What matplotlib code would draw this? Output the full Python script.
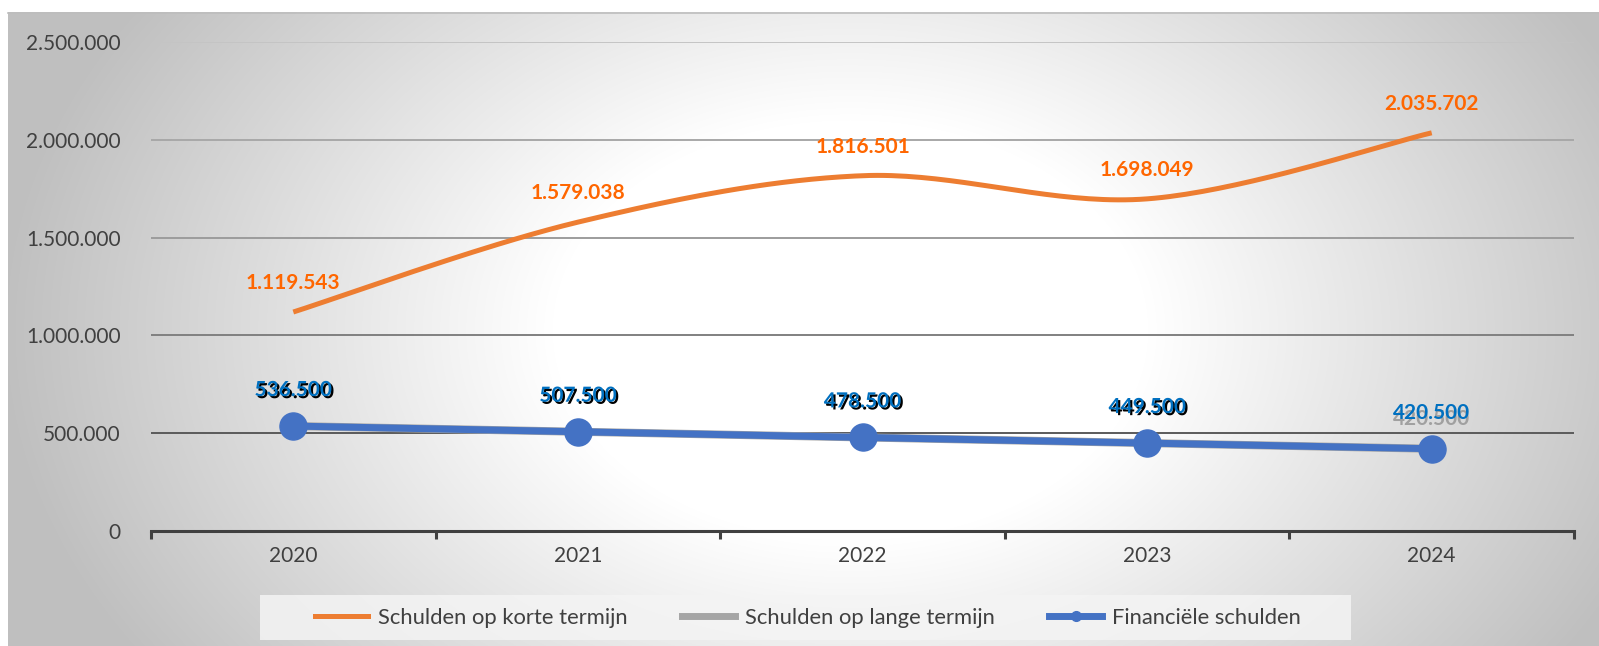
import numpy as np
import matplotlib
matplotlib.use("Agg")
import matplotlib.pyplot as plt
import matplotlib.patheffects as pe
from matplotlib.lines import Line2D
from matplotlib.patches import Rectangle

plt.rcParams['font.family'] = ['Lato', 'DejaVu Sans']

# Data
years = ['2020', '2021', '2022', '2023', '2024']
korte_termijn = [1119543, 1579038, 1816501, 1698049, 2035702]
lange_termijn = [536500, 507500, 478500, 449500, 420500]
financiele = [536500, 507500, 478500, 449500, 420500]
y_ticks = [0, 500000, 1000000, 1500000, 2000000, 2500000]

ORANGE = '#ED7D31'
ORANGE_TXT = '#FF6600'
GRAY = '#A5A5A5'
BLUE = '#4472C4'
BLUE_TXT = '#0070C0'
TXT = '#404040'

W, H = 1599, 646
fig = plt.figure(figsize=(W / 100, H / 100), dpi=100)
fig.patch.set_facecolor('white')


def fmt(v):
    return f"{v:,.0f}".replace(',', '.')


# Background panel with radial gradient
bg = fig.add_axes([8 / W, 0, 1 - 8 / W, (H - 12) / H])
bg.set_axis_off()
xx, yy = np.meshgrid(np.arange(8, W), np.arange(12, H))
d = np.sqrt(((xx - 850) / 850.0) ** 2 + ((yy - 330) / 600.0) ** 2)
t = np.clip((d - 0.35) / 0.65, 0, 1)
shade = 1.0 - t * (1.0 - 0.75)
bg.imshow(np.dstack([shade, shade, shade]), aspect='auto', interpolation='bilinear')
fig.add_artist(Line2D([8 / W, 1], [1 - 12.5 / H, 1 - 12.5 / H], color='#BDBDBD', lw=1.2))

# Main axes
ax = fig.add_axes([151 / W, 1 - 531 / H, (1574 - 151) / W, (531 - 42) / H])
ax.patch.set_alpha(0)
x = np.arange(len(years))


# Excel-style smoothed line (Catmull-Rom through the points, in pixel space)
def smooth(xs, ys, sx=284.6, sy=98 / 500000, n=40):
    P = np.column_stack([np.asarray(xs) * sx, np.asarray(ys) * sy])
    out = []
    for i in range(len(P) - 1):
        p0 = P[i - 1] if i > 0 else P[i]
        p1, p2 = P[i], P[i + 1]
        p3 = P[i + 2] if i + 2 < len(P) else P[i + 1]
        c1 = p1 + (p2 - p0) / 6
        c2 = p2 - (p3 - p1) / 6
        tt = np.linspace(0, 1, n)[:, None]
        seg = (1 - tt) ** 3 * p1 + 3 * (1 - tt) ** 2 * tt * c1 + 3 * (1 - tt) * tt ** 2 * c2 + tt ** 3 * p2
        out.append(seg if i == 0 else seg[1:])
    out = np.vstack(out)
    return out[:, 0] / sx, out[:, 1] / sy


sx_, sy_ = smooth(x, korte_termijn)
ax.plot(sx_, sy_, color=ORANGE, lw=3.6, solid_capstyle='butt', zorder=4)
ax.plot(x, lange_termijn, color=GRAY, lw=5.8, zorder=3)
ax.plot(x, financiele, color=BLUE, lw=5, marker='o', markersize=19.5, zorder=5)

# Data labels
for xi, v in zip(x, korte_termijn):
    ax.annotate(fmt(v), (xi, v), xytext=(0, 29), textcoords='offset pixels',
                ha='center', va='center', fontsize=15, fontweight='bold', color=ORANGE_TXT, zorder=6)
# grey series label only shows out from behind the blue one at the last point
ax.annotate(fmt(lange_termijn[-1]), (x[-1], lange_termijn[-1]), xytext=(0, 30), textcoords='offset pixels',
            ha='center', va='center', fontsize=15, fontweight='bold', color='#A0A0A0', zorder=6)
last = len(financiele) - 1
for i, (xi, v) in enumerate(zip(x, financiele)):
    effects = [pe.SimplePatchShadow(offset=(1.5, -1.5), shadow_rgbFace='black', alpha=1), pe.Normal()] if i < last else []
    ax.annotate(fmt(v), (xi, v), xytext=(0, 36), textcoords='offset pixels',
                ha='center', va='center', fontsize=15, fontweight='bold', color=BLUE_TXT, zorder=7,
                path_effects=effects)

# Axes styling
ax.set_xlim(-0.5, len(years) - 0.5)
ax.set_ylim(0, 2500000)
ax.set_yticks(y_ticks)
ax.set_yticklabels([fmt(v) for v in y_ticks])
ax.set_xticks(x)
ax.set_xticklabels(years)
ax.set_xticks(np.arange(-0.5, len(years)), minor=True)
ax.tick_params(axis='y', length=0, pad=22, labelsize=15, labelcolor=TXT)
ax.tick_params(axis='x', which='major', length=0, pad=11, labelsize=15, labelcolor=TXT)
ax.tick_params(axis='x', which='minor', length=6, width=2.2, color=TXT, direction='out')
for s in ['top', 'right', 'left']:
    ax.spines[s].set_visible(False)
ax.spines['bottom'].set_color(TXT)
ax.spines['bottom'].set_linewidth(2.2)
ax.spines['bottom'].set_zorder(2)

grid_colors = ['#404040', '#5A5A5A', '#808080', '#9C9C9C', '#A8A8A8', '#C4C4C4']
ax.yaxis.grid(True, lw=1.4)
for gl, c in zip(ax.get_ygridlines(), grid_colors):
    gl.set_color(c)
ax.set_axisbelow(True)

# Legend
fig.add_artist(Rectangle((260 / W, 1 - 640 / H), (1351 - 260) / W, 45 / H,
                         transform=fig.transFigure, facecolor='#F4F4F4', alpha=0.85, edgecolor='none'))
handles = [Line2D([], [], color=ORANGE, lw=3.6),
           Line2D([], [], color=GRAY, lw=5),
           Line2D([], [], color=BLUE, lw=5, marker='o', markersize=7)]
labels = ['Schulden op korte termijn', 'Schulden op lange termijn', 'Financiële schulden']
fig.legend(handles, labels, loc='center', bbox_to_anchor=(808 / W, 1 - 618 / H), ncol=3,
           frameon=False, fontsize=15.8, handlelength=2.4, handletextpad=0.45, columnspacing=2.5,
           labelcolor=TXT)

fig.savefig('out.png', dpi=100)
